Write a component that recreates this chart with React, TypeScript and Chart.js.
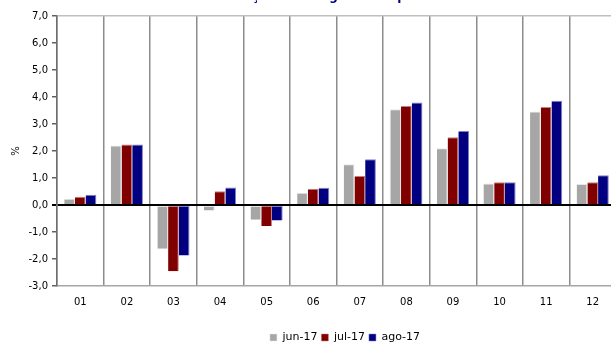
import React, { useEffect, useRef } from "react";
import { Chart, registerables } from "chart.js";

Chart.register(...registerables);

const categories = ["01", "02", "03", "04", "05", "06", "07", "08", "09", "10", "11", "12"];
const jun17 = [0.23, 2.2, -1.62, -0.2, -0.55, 0.45, 1.51, 3.55, 2.1, 0.8, 3.46, 0.78];
const jul17 = [0.31, 2.24, -2.45, 0.51, -0.78, 0.6, 1.07, 3.67, 2.51, 0.84, 3.63, 0.84];
const ago17 = [0.38, 2.24, -1.87, 0.65, -0.57, 0.64, 1.69, 3.8, 2.74, 0.84, 3.86, 1.1];
const seriesNames = ["jun-17", "jul-17", "ago-17"];
const titleText = "Variação homóloga do IPC por classes";
const yAxisTitle = "%";

const W = 690;
const H = 367;

export default function App() {
  const ref = useRef<HTMLCanvasElement | null>(null);
  useEffect(() => {
    if (!ref.current) return;
    const font = "'DejaVu Sans', Verdana, sans-serif";
    const chart = new Chart(ref.current, {
      type: "bar",
      data: {
        labels: categories,
        datasets: [
          { label: seriesNames[0], data: jun17, backgroundColor: "#a6a6a6", borderColor: "#e6e6e6", borderWidth: { top: 1, right: 1 } as any, borderSkipped: false },
          { label: seriesNames[1], data: jul17, backgroundColor: "#800000", borderColor: "#c08080", borderWidth: { top: 1, right: 1 } as any, borderSkipped: false },
          { label: seriesNames[2], data: ago17, backgroundColor: "#000080", borderColor: "#8080c8", borderWidth: { top: 1, right: 1 } as any, borderSkipped: false },
        ],
      },
      options: {
        responsive: false,
        animation: false,
        devicePixelRatio: 1,
        layout: { padding: 0 },
        datasets: { bar: { categoryPercentage: 0.69, barPercentage: 1.0 } },
        plugins: {
          title: {
            display: true,
            text: titleText,
            color: "#000080",
            font: { family: font, size: 12, weight: "bold" },
            padding: { top: 4, bottom: 11.6 },
          },
          legend: {
            position: "bottom",
            labels: {
              boxWidth: 7,
              boxHeight: 7,
              padding: 4,
              color: "#000",
              font: { family: font, size: 11 },
            },
          },
          tooltip: { enabled: false },
        },
        scales: {
          x: {
            position: "bottom",
            grid: {
              offset: true,
              color: "#8c8c8c",
              lineWidth: 1.5,
              drawTicks: false,
            },
            border: { color: "#a6a6a6", width: 1.5 },
            ticks: { color: "#000", padding: 10, font: { family: font, size: 10 }, maxRotation: 0 },
            afterFit: (s: any) => { s.height = 42; },
          },
          y: {
            min: -3,
            max: 7,
            position: "left",
            ticks: {
              stepSize: 1,
              color: "#000",
              padding: 4,
              font: { family: font, size: 10 },
              callback: (v: any) => Number(v).toFixed(1).replace(".", ","),
            },
            grid: {
              tickLength: 5,
              color: (c: any) => (c.tick && c.tick.value === 0 ? "#000" : c.tick && c.tick.value === 7 ? "#c0c0c0" : "rgba(0,0,0,0)"),
              lineWidth: (c: any) => (c.tick && c.tick.value === 0 ? 2 : 1.5),
              tickColor: (c: any) => (c.tick && c.tick.value === 0 ? "#000" : "#606060"),
            },
            border: { color: "#6e6e6e", width: 1.5 },
            title: { display: true, text: yAxisTitle, color: "#000", font: { family: font, size: 10 }, padding: { top: 10, bottom: 0 } },
            afterFit: (s: any) => { s.width = 57; },
          },
          yRight: {
            position: "right",
            display: true,
            min: -3,
            max: 7,
            ticks: { display: false },
            grid: { drawOnChartArea: false, drawTicks: false },
            border: { display: false },
            afterFit: (s: any) => { s.width = 74; },
          },
        },
      },
    });
    return () => chart.destroy();
  }, []);
  return (
    <div style={{ position: "fixed", left: 0, top: 0, width: 611, height: 344, overflow: "hidden", background: "#fff" }}>
      <canvas ref={ref} width={W} height={H} style={{ position: "absolute", left: 0, top: -14, width: W, height: H }} />
    </div>
  );
}
